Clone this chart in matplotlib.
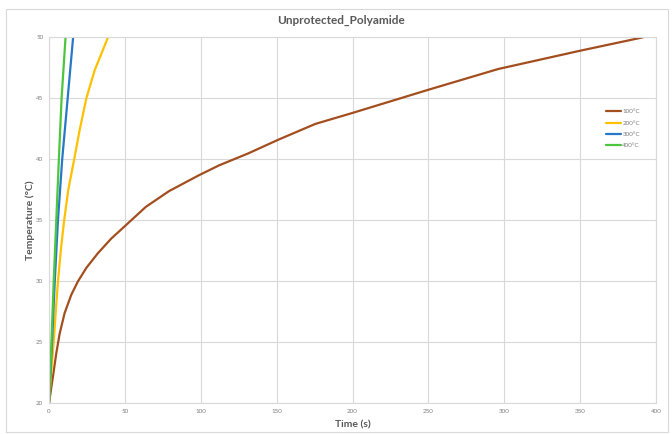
import matplotlib
matplotlib.use("Agg")
import matplotlib.pyplot as plt
from matplotlib.patches import Rectangle

plt.rcParams['font.family'] = ['Lato', 'DejaVu Sans']

# Heating curves of unprotected polyamide at four exposure temperatures
t_100 = [0, 2.6, 4.8, 7.0, 10.3, 14.7, 19.1, 24.6, 32.2, 41.0, 49.8, 63.8, 79.2,
         98.9, 112.0, 131.6, 151.0, 175.5, 200.0, 250.0, 296.0, 350.0, 391.5]
T_100 = [20.0, 22.2, 24.1, 25.7, 27.4, 28.9, 30.0, 31.1, 32.3, 33.5, 34.5, 36.1, 37.4,
         38.7, 39.5, 40.5, 41.6, 42.9, 43.8, 45.7, 47.4, 48.9, 50.0]

t_200 = [0, 1.5, 3.1, 4.5, 5.9, 8.0, 10.0, 12.7, 16.6, 20.2, 24.6, 30.1, 38.9]
T_200 = [20.0, 22.6, 25.0, 27.6, 30.0, 32.8, 35.0, 37.5, 40.0, 42.4, 45.0, 47.3, 50.0]

t_300 = [0, 2.0, 3.8, 5.9, 8.7, 12.3, 15.9]
T_300 = [20.0, 25.0, 30.0, 35.0, 40.0, 45.0, 50.0]

t_400 = [0, 1.6, 3.1, 4.8, 6.5, 8.3, 10.9]
T_400 = [20.0, 25.0, 30.0, 35.0, 40.0, 45.0, 50.0]

series = [
    ("100°C", t_100, T_100, "#A34E1E"),
    ("200°C", t_200, T_200, "#FFC000"),
    ("300°C", t_300, T_300, "#2878C8"),
    ("400°C", t_400, T_400, "#4CC63E"),
]

x_ticks = [0, 50, 100, 150, 200, 250, 300, 350, 400]
y_ticks = [20, 25, 30, 35, 40, 45, 50]

W, H = 672, 434
fig = plt.figure(figsize=(W / 100, H / 100), dpi=100)

# chart frame
fig.patches.append(Rectangle((6 / W, 2 / H), 662 / W, 423 / H,
                             transform=fig.transFigure, fill=False,
                             edgecolor="#d9d9d9", lw=0.8))

ax = fig.add_axes([49 / W, 30.7 / H, 607 / W, 366 / H])
for label, t, T, c in series:
    ax.plot(t, T, color=c, lw=1.6, label=label, solid_capstyle="round",
            solid_joinstyle="round")

ax.set_xlim(0, 400)
ax.set_ylim(20, 50)
ax.set_xticks(x_ticks)
ax.set_yticks(y_ticks)
ax.grid(True, color="#d9d9d9", lw=0.8)
ax.set_axisbelow(True)
for s in ax.spines.values():
    s.set_color("#d9d9d9")
    s.set_linewidth(0.8)
ax.tick_params(length=0, labelsize=4.5, labelcolor="#7f7f7f", pad=4)

ax.set_xlabel("Time (s)", fontsize=7.5, fontweight="bold", color="#595959", labelpad=5)
ax.set_ylabel("Temperature (°C)", fontsize=7.5, fontweight="bold", color="#595959", labelpad=1)

fig.text(341 / W, 1 - 20 / H, "Unprotected_Polyamide", ha="center", va="center",
         fontsize=8.5, fontweight="bold", color="#595959")

leg = fig.legend(loc="center left", bbox_to_anchor=(603 / W, 1 - 128.7 / H),
                 frameon=False, fontsize=4.5, handlelength=2.4,
                 handletextpad=0.2, labelspacing=0.95, borderpad=0)
for txt in leg.get_texts():
    txt.set_color("#7f7f7f")

fig.savefig("out.png", dpi=100)
